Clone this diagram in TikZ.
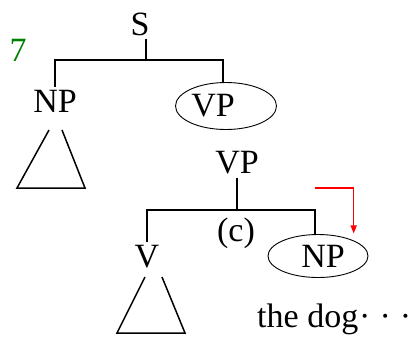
\documentclass[tikz,border=0pt]{standalone}
\usepackage{fontspec}
\setmainfont{Liberation Serif}
\usetikzlibrary{arrows.meta,shapes.geometric}

\begin{document}
\begin{tikzpicture}[x=1pt, y=-1pt,
  font=\fontsize{34}{40}\selectfont,
  cat/.style={inner sep=3pt},
  ell/.style={ellipse, draw=black, line width=0.9pt, inner sep=0pt},
  br/.style={line width=1.7pt, draw=black},
  tri/.style={line width=1.5pt, draw=black},
  redar/.style={-{Triangle[length=8pt,width=6pt]}, line width=1.5pt, draw=red}]
\useasboundingbox (0,0) rectangle (412,338);
% upper tree
\node[cat] (S) at (140,24) {S};
\node[cat, text=green!50!black] (num) at (18,50) {7};
\node[cat] (NP1) at (55,101) {NP};
\node[ell, minimum width=101pt, minimum height=47pt] (vpe) at (226,106) {};
\node[cat] (VP1) at (213,106) {VP};
\coordinate (sbar) at (146,60);
\draw[br] (S.south -| sbar) -- (sbar);
\draw[br] (NP1.north) |- (sbar) -| ([xshift=-3pt]vpe.north);
\draw[tri] (49,130) -- (17,188) -- (85,188) -- (62,130);
% lower tree
\node[cat] (VP2) at (237,163) {VP};
\node[cat] (V) at (147,257) {V};
\node[cat] (c) at (236,233) {(c)};
\node[ell, minimum width=100pt, minimum height=43pt] (npe) at (318,256) {};
\node[cat] (NP2) at (323,256) {NP};
\coordinate (vbar) at (237,210);
\draw[br] (VP2.south) -- (vbar);
\draw[br] (V.north) |- (vbar) -| ([xshift=-3pt]npe.north);
\draw[tri] (145,277) -- (117,333) -- (185,333) -- (162,277);
\coordinate (r0) at (315,188);
\draw[redar] (r0) -| ([yshift=7pt]npe.north east);
\node[cat, anchor=base west] (dog) at (254,327) {the dog\kern1pt·\kern9pt·\kern9pt·};
\end{tikzpicture}
\end{document}
